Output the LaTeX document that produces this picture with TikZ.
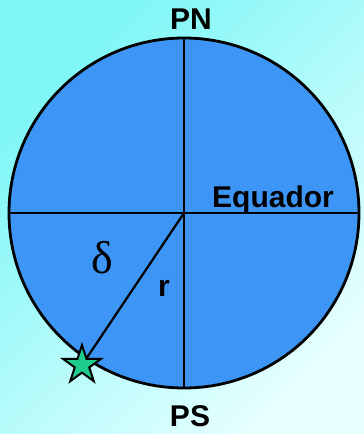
\documentclass[tikz,border=0pt]{standalone}
\usepackage{fontspec}
\setmainfont{Liberation Sans}
\newfontfamily\serifgreek{Liberation Serif}
\usepackage{tikz}
\usetikzlibrary{shapes.geometric}
\definecolor{skytop}{HTML}{7CF6F6}
\definecolor{skybottom}{HTML}{E6FFFF}
\definecolor{globeblue}{HTML}{3D96F6}
\definecolor{stargreen}{HTML}{1ECC8C}

\begin{document}
\begin{tikzpicture}[x=1pt,y=-1pt,
  globe/.style={circle,draw=black,line width=2.8pt,fill=globeblue,minimum size=350pt,inner sep=0pt},
  axis/.style={draw=black,line width=2.2pt},
  lbl/.style={font=\bfseries\fontsize{30}{30}\selectfont,inner sep=0pt,anchor=base},
  starmark/.style={star,star points=5,star point ratio=2.618,draw=black,line width=2pt,fill=stargreen,minimum size=40pt,inner sep=0pt}]
  % background
  \shade[top color=skytop,bottom color=skybottom,shading angle=45] (0,0) rectangle (364,434);
  \useasboundingbox (0,0) rectangle (364,434);

  \node[globe] (earth) at (184,213) {};
  \draw[axis] (earth.north) -- (earth.south);
  \draw[axis] (earth.west) -- (earth.east);
  \coordinate (star pos) at (82,365);
  \draw[axis] (earth.center) -- (star pos);
  \node[starmark] (star) at (star pos) {};

  \node[lbl] (pn) at (191,29.5) {PN};
  \node[lbl] (ps) at (190,426.5) {PS};
  \node[lbl,anchor=base west] (eq) at (212,207.5) {Equador};
  \node[lbl,anchor=base west] (r) at (158,296.5) {r};
  \node[inner sep=0pt,anchor=base west,font=\serifgreek\fontsize{46}{46}\selectfont] (delta) at (91,273) {δ};
\end{tikzpicture}
\end{document}
